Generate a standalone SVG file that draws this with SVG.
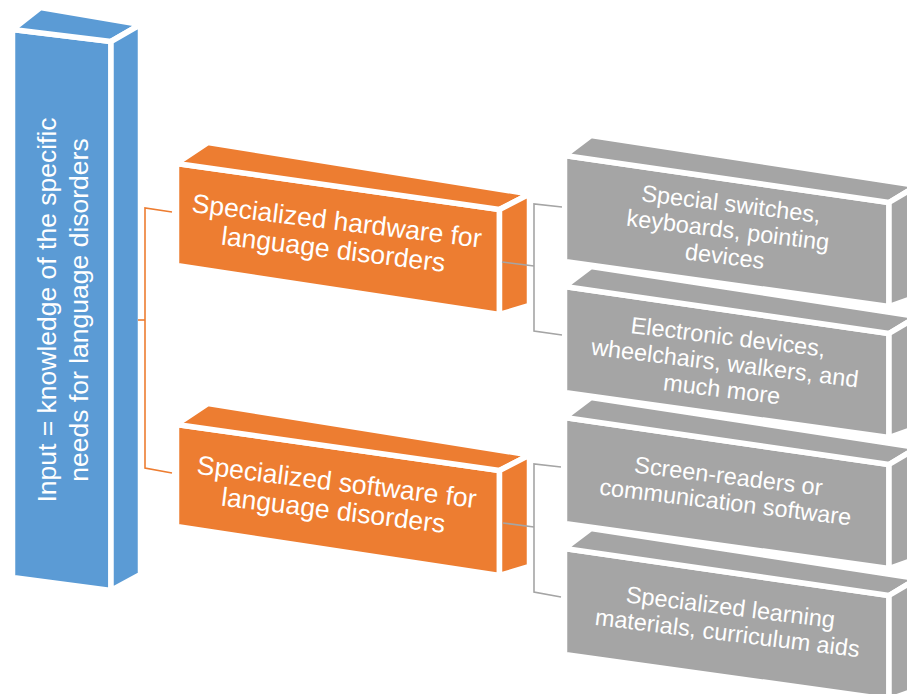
<svg xmlns="http://www.w3.org/2000/svg" xmlns:xlink="http://www.w3.org/1999/xlink" width="907" height="694" viewBox="0 0 907 694">
<style>
.face{stroke:#FFFFFF;stroke-width:5.5;stroke-linejoin:round}
.blue{fill:#5B9BD5}
.org{fill:#ED7D31}
.gry{fill:#A5A5A5}
.t{font-family:"Liberation Sans",Arial,sans-serif;fill:#FFFFFF;text-anchor:middle}
.tb{font-size:26.5px}
.to{font-size:26.5px}
.tg{font-size:23.5px}
.conO{fill:none;stroke:#ED7D31;stroke-width:1.6}
.conG{fill:none;stroke:#A5A5A5;stroke-width:1.6}
</style>
<defs>
<g id="oshape">
<polygon class="face" points="0,0 323,46 323,151 0,102"/>
<polygon class="face" points="0,0 31.5,-21 353,30.5 323,46"/>
<polygon class="face" points="323,46 353,30.5 353,142 323,151"/>
</g>
<g id="gshape">
<polygon class="face" points="0,0 324.5,47 324.5,151 0,106"/>
<polygon class="face" points="0,0 26.5,-20 353,30 324.5,47"/>
<polygon class="face" points="324.5,47 353,30 353,141 324.5,151"/>
</g>
</defs>

<g id="input">
<g class="blue">
<polygon class="face" points="12.5,29.5 111,41.5 111,590.5 12.5,577.5"/>
<polygon class="face" points="12.5,29.5 40.5,7.5 140.5,24.5 111,41.5"/>
<polygon class="face" points="111,41.5 140.5,24.5 140.5,574.5 111,590.5"/>
</g>
<g transform="translate(72,310) rotate(-90)">
<text class="t tb" x="0" y="-16">Input = knowledge of the specific</text>
<text class="t tb" x="0" y="16">needs for language disorders</text>
</g>
</g>

<g id="hardware">
<use xlink:href="#oshape" class="org" transform="translate(176.5,163.5)"/>
<g transform="translate(334,244) rotate(7)">
<text class="t to" x="0" y="-14.3">Specialized hardware for</text>
<text class="t to" x="0" y="14.3">language disorders</text>
</g>
</g>

<g id="software">
<use xlink:href="#oshape" class="org" transform="translate(176.5,424.5)"/>
<g transform="translate(334,505) rotate(7)">
<text class="t to" x="0" y="-14.3">Specialized software for</text>
<text class="t to" x="0" y="14.3">language disorders</text>
</g>
</g>

<g id="switches">
<use xlink:href="#gshape" class="gry" transform="translate(564.5,155.5)"/>
<g transform="translate(727,238) rotate(7)">
<text class="t tg" x="0" y="-26.3">Special switches,</text>
<text class="t tg" x="0" y="0">keyboards, pointing</text>
<text class="t tg" x="0" y="26.3">devices</text>
</g>
</g>

<g id="electronic">
<use xlink:href="#gshape" class="gry" transform="translate(564.5,286.5)"/>
<g transform="translate(724,371) rotate(7)">
<text class="t tg" x="0" y="-26.3">Electronic devices,</text>
<text class="t tg" x="0" y="0">wheelchairs, walkers, and</text>
<text class="t tg" x="0" y="26.3">much more</text>
</g>
</g>

<g id="screenreaders">
<use xlink:href="#gshape" class="gry" transform="translate(564.5,417.5)"/>
<g transform="translate(726,497) rotate(7)">
<text class="t tg" x="0" y="-13">Screen-readers or</text>
<text class="t tg" x="0" y="13">communication software</text>
</g>
</g>

<g id="learning">
<use xlink:href="#gshape" class="gry" transform="translate(564.5,548.5)"/>
<g transform="translate(728,628) rotate(7)">
<text class="t tg" x="0" y="-13">Specialized learning</text>
<text class="t tg" x="0" y="13">materials, curriculum aids</text>
</g>
</g>

<g id="connectors">
<path class="conO" d="M138,320 H145"/>
<path class="conO" d="M172,212 L145,208 V468 L172,473"/>
<path class="conG" d="M502,262 L534,266"/>
<path class="conG" d="M562,207 L534,204 V331 L562,335"/>
<path class="conG" d="M503,523 L534,527"/>
<path class="conG" d="M561,467 L534,464 V592 L561,597"/>
</g>
</svg>
